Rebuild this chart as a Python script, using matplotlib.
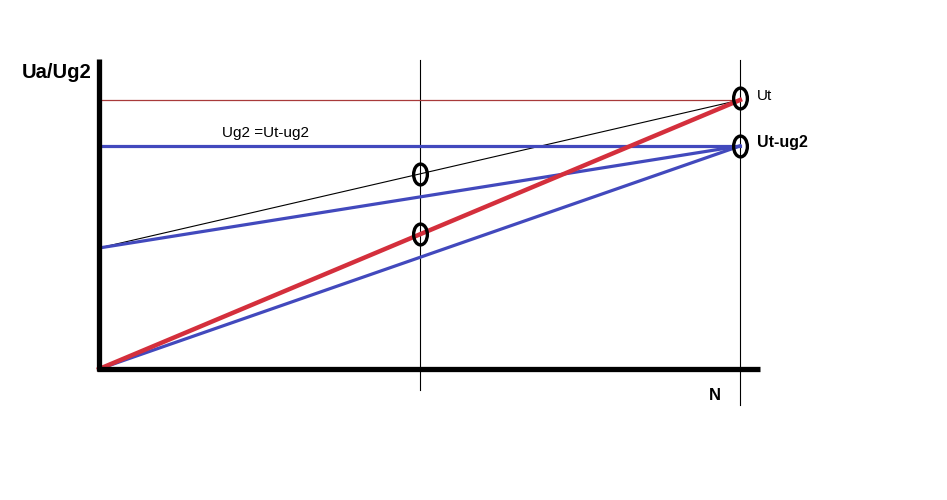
import matplotlib
matplotlib.use("Agg")
import matplotlib.pyplot as plt
from matplotlib.path import Path
from matplotlib.transforms import Affine2D

plt.rcParams['font.family'] = ['Liberation Sans', 'DejaVu Sans']

# N positions (0 = origin, 0.5 = middle, 1 = full N)
n_pts = [0.0, 0.5, 1.0]
# Voltage levels (arbitrary units)
Ut = 269
Ut_ug2 = 223
start_level = 121
# lines: (x0, y0, x1, y1)
black_line = ([0.0, 1.0], [start_level, Ut])
blue_upper = ([0.0, 1.0], [start_level, Ut_ug2])
blue_lower = ([0.0, 1.0], [0, Ut_ug2])
blue_horiz = ([0.0, 1.0], [Ut_ug2, Ut_ug2])
red_line = ([0.0, 1.0], [0, Ut])
red_horiz = ([0.0, 1.0], [Ut, Ut])
# circle markers
circle_x = [0.5, 0.5, 1.0, 1.0]
circle_y = [195, 135, Ut + 2, Ut_ug2]

fig = plt.figure(figsize=(9.47, 5.0), dpi=100)
ax = fig.add_axes([0, 0, 1, 1])
ax.set_xlim(-99/641, 848/641)
ax.set_ylim(-131, 369)
ax.axis('off')

RED = '#d42f3c'
BLUE = '#4249bd'
DARKRED = '#a83a3a'

# vertical guide lines
ax.plot([0.5, 0.5], [-21, 309], color='black', lw=0.8)
ax.plot([1.0, 1.0], [-36, 309], color='black', lw=0.8)

ax.plot(*red_horiz, color=DARKRED, lw=0.9)
ax.plot(*black_line, color='black', lw=0.8)
ax.plot(*blue_horiz, color=BLUE, lw=2.3)
ax.plot(*blue_upper, color=BLUE, lw=2.3)
ax.plot(*blue_lower, color=BLUE, lw=2.3)
ax.plot(*red_line, color=RED, lw=3.2)

# axes
ax.plot([0, 0], [-2, 310], color='black', lw=3.8, solid_capstyle='butt')
ax.plot([-0.003, 1.031], [0, 0], color='black', lw=3.8, solid_capstyle='butt')

ell = Path.unit_circle().transformed(Affine2D().scale(0.66, 1.0))
ax.plot(circle_x, circle_y, linestyle='none', marker=ell, markersize=15,
        markerfacecolor='none', markeredgecolor='black', markeredgewidth=2.4)

ax.text(-0.121, 297, 'Ua/Ug2', fontsize=14.5, fontweight='bold', va='center', ha='left')
ax.text(0.961, -26, 'N', fontsize=12, fontweight='bold', va='center', ha='center')
ax.text(1.027, 273, 'Ut', fontsize=11, va='center', ha='left')
ax.text(1.027, 226, 'Ut-ug2', fontsize=11.5, fontweight='bold', va='center', ha='left')
ax.text(0.192, 236, 'Ug2 =Ut-ug2', fontsize=11, va='center', ha='left')

fig.savefig('out.png', dpi=100)
